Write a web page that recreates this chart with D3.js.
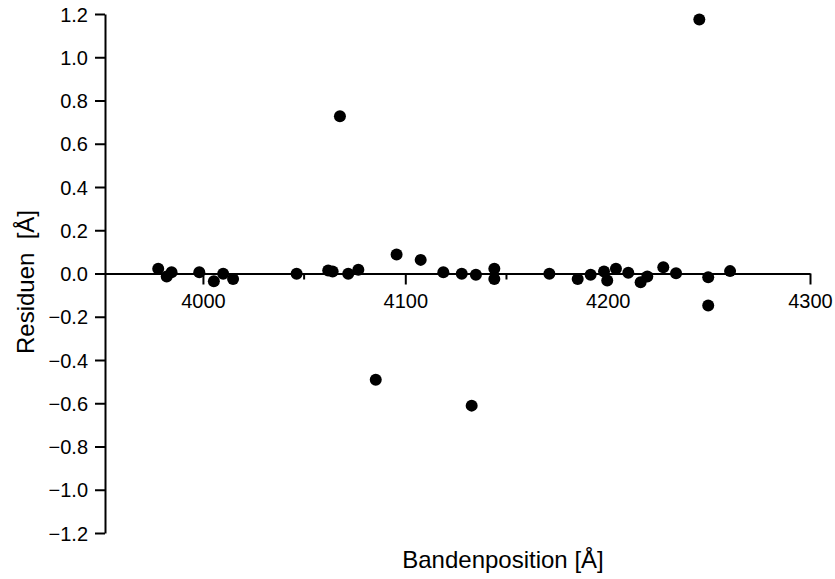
<!DOCTYPE html>
<html>
<head>
<meta charset="utf-8">
<script src="https://cdn.jsdelivr.net/npm/d3@7.9.0/dist/d3.min.js"></script>
<style>
  body { margin: 0; background: #fff; }
  svg { display: block; font-family: Arial, "Liberation Sans", Helvetica, sans-serif; }
  .axis path, .axis line { stroke: #000; stroke-width: 2; }
  .axis text { font-size: 20px; fill: #000; }
</style>
</head>
<body>
<svg id="chart" width="835" height="579"></svg>
<script>
// band positions (Å) and their residuals (Å)
const positions = [
  3977.9, 3982.1, 3984.5, 3998.2, 4005.4, 4010.0, 4014.9, 4046.3, 4061.9, 4064.1,
  4067.7, 4071.8, 4076.8, 4085.4, 4095.7, 4107.6, 4118.8, 4127.9, 4132.8, 4134.9,
  4144.0, 4144.0, 4171.2, 4185.2, 4191.6, 4198.2, 4199.8, 4204.1, 4210.2, 4216.3,
  4219.6, 4227.5, 4233.8, 4245.3, 4249.7, 4249.7, 4260.5
];
const residuals = [
  0.022, -0.014, 0.006, 0.006, -0.036, -0.001, -0.025, -0.001, 0.014, 0.009,
  0.727, -0.001, 0.017, -0.491, 0.088, 0.063, 0.006, -0.001, -0.611, -0.006,
  0.022, -0.025, -0.001, -0.025, -0.006, 0.009, -0.032, 0.022, 0.003, -0.040,
  -0.014, 0.029, 0.001, 1.175, -0.017, -0.148, 0.011
];
const xMajorTicks = [4000, 4100, 4200, 4300];
const xMinorTicks = [4050, 4150, 4250];
const yTicks = [1.2, 1.0, 0.8, 0.6, 0.4, 0.2, 0.0, -0.2, -0.4, -0.6, -0.8, -1.0, -1.2];

const points = positions.map((p, i) => ({ x: p, y: residuals[i] }));

const svg = d3.select('#chart');

const x = d3.scaleLinear().domain([3951.6, 4300]).range([105, 810]);
const y = d3.scaleLinear().domain([-1.2, 1.2]).range([533, 14]);

// y axis
svg.append('g')
  .attr('class', 'axis')
  .attr('transform', 'translate(105,0)')
  .call(d3.axisLeft(y).tickValues(yTicks).tickSize(10).tickSizeOuter(0).tickPadding(7)
    .tickFormat(d3.format('.1f')))
  .call(g => g.selectAll('text').attr('dy', '0.36em'));

// x axis at zero
const xAxis = svg.append('g')
  .attr('class', 'axis')
  .attr('transform', `translate(0,${y(0)})`);

xAxis.call(d3.axisBottom(x).tickValues(xMajorTicks).tickSize(11).tickSizeOuter(0).tickPadding(9)
  .tickFormat(d3.format('d')));

xAxis.selectAll('.minor')
  .data(xMinorTicks)
  .join('line')
  .attr('class', 'minor')
  .attr('x1', d => x(d)).attr('x2', d => x(d))
  .attr('y1', 0).attr('y2', 6);

// points
svg.append('g')
  .selectAll('circle')
  .data(points)
  .join('circle')
  .attr('cx', d => x(d.x))
  .attr('cy', d => y(d.y))
  .attr('r', 6)
  .attr('fill', '#000');

// axis titles
svg.append('text')
  .attr('x', 503)
  .attr('y', 568)
  .attr('text-anchor', 'middle')
  .style('font-size', '24px')
  .text('Bandenposition [Å]');

svg.append('text')
  .attr('transform', 'translate(34,282) rotate(-90)')
  .attr('text-anchor', 'middle')
  .style('font-size', '24px')
  .style('white-space', 'pre')
  .text('Residuen  [Å]');
</script>
</body>
</html>
